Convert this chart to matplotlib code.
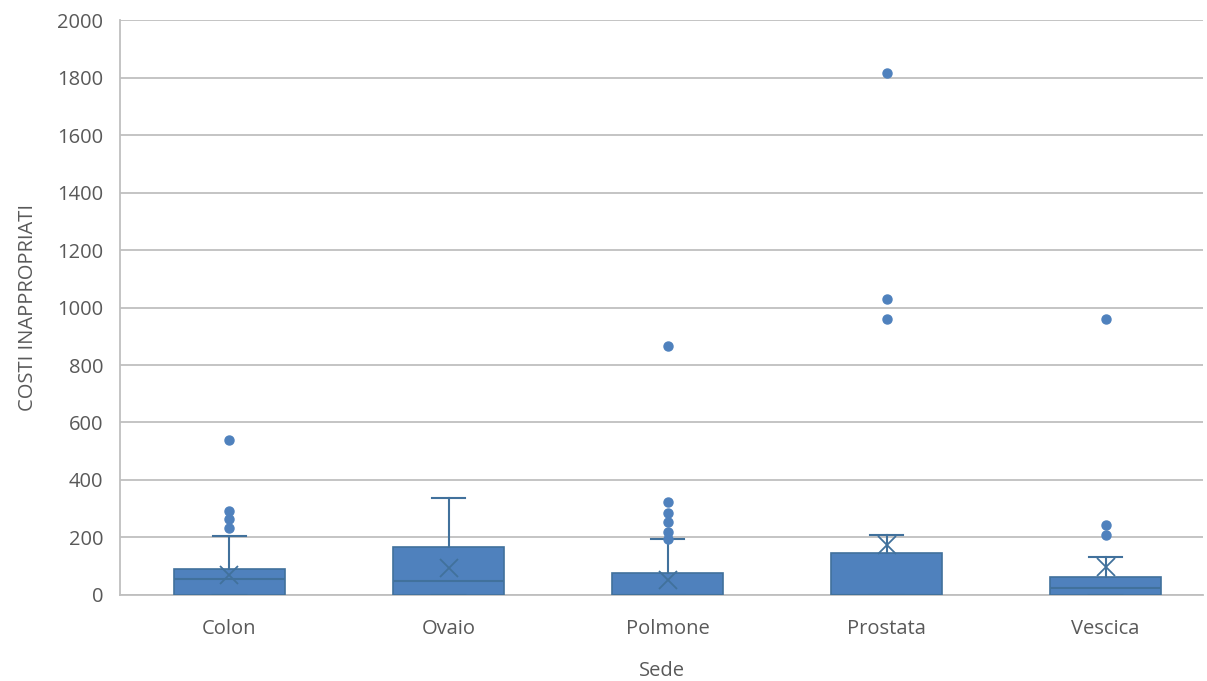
import matplotlib
matplotlib.use("Agg")
import matplotlib.pyplot as plt

categories = ["Colon", "Ovaio", "Polmone", "Prostata", "Vescica"]
q1 = [0, 0, 0, 0, 0]
medians = [54, 49, 0, 0, 23]
q3 = [90, 168, 78, 147, 62]
whisker_low = [0, 0, 0, 0, 0]
whisker_high = [206, 339, 194, 209, 131]
means = [70, 95, 52, 174, 99]
outliers = [
    [539, 293, 263, 234],
    [],
    [865, 322, 284, 255, 220, 195],
    [1815, 1030, 960],
    [960, 243, 209],
]
y_ticks = [0, 200, 400, 600, 800, 1000, 1200, 1400, 1600, 1800, 2000]

plt.rcParams['font.family'] = ['Open Sans', 'DejaVu Sans']

fig = plt.figure(figsize=(12.07, 6.81), dpi=100)
ax = fig.add_axes([0.0994, 0.1263, 0.8973, 0.8443])

stats = []
for i, c in enumerate(categories):
    stats.append(dict(label=c, q1=q1[i], med=medians[i], q3=q3[i],
                      whislo=whisker_low[i], whishi=whisker_high[i],
                      mean=means[i], fliers=outliers[i]))

fill = "#4F81BD"
edge = "#41719C"
positions = list(range(1, len(categories) + 1))
ax.bxp(stats, positions=positions, widths=0.51, patch_artist=True,
       showmeans=True, showfliers=True,
       boxprops=dict(facecolor=fill, edgecolor=edge, linewidth=1.2),
       medianprops=dict(color=edge, linewidth=1.5),
       whiskerprops=dict(color=edge, linewidth=1.5),
       capprops=dict(color=edge, linewidth=1.5),
       capwidths=0.15,
       meanprops=dict(marker='x', markeredgecolor=edge, markersize=13, markeredgewidth=1.3),
       flierprops=dict(marker='o', markerfacecolor=fill, markeredgecolor=fill, markersize=6.5),
       zorder=3)

ax.set_xlim(0.5, 5.445)
ax.set_ylim(0, 2000)
ax.set_yticks(y_ticks)
ax.set_yticklabels([str(v) for v in y_ticks])
ax.yaxis.grid(True, color="#BFBFBF", linewidth=1.3, zorder=0)
ax.set_axisbelow(True)
for s in ["top", "right"]:
    ax.spines[s].set_visible(False)
ax.spines["left"].set_color("#BFBFBF")
ax.spines["left"].set_linewidth(1.3)
ax.spines["bottom"].set_color("#BFBFBF")
ax.spines["bottom"].set_linewidth(1.3)
ax.tick_params(axis='both', length=0, colors="#595959", labelsize=14.5)
ax.tick_params(axis='y', pad=12)
ax.tick_params(axis='x', pad=17)
ax.set_xlabel("Sede", color="#595959", fontsize=14.5, labelpad=16)
ax.set_ylabel("COSTI INAPPROPRIATI", color="#595959", fontsize=14.5, labelpad=14)

fig.savefig("out.png", dpi=100)
